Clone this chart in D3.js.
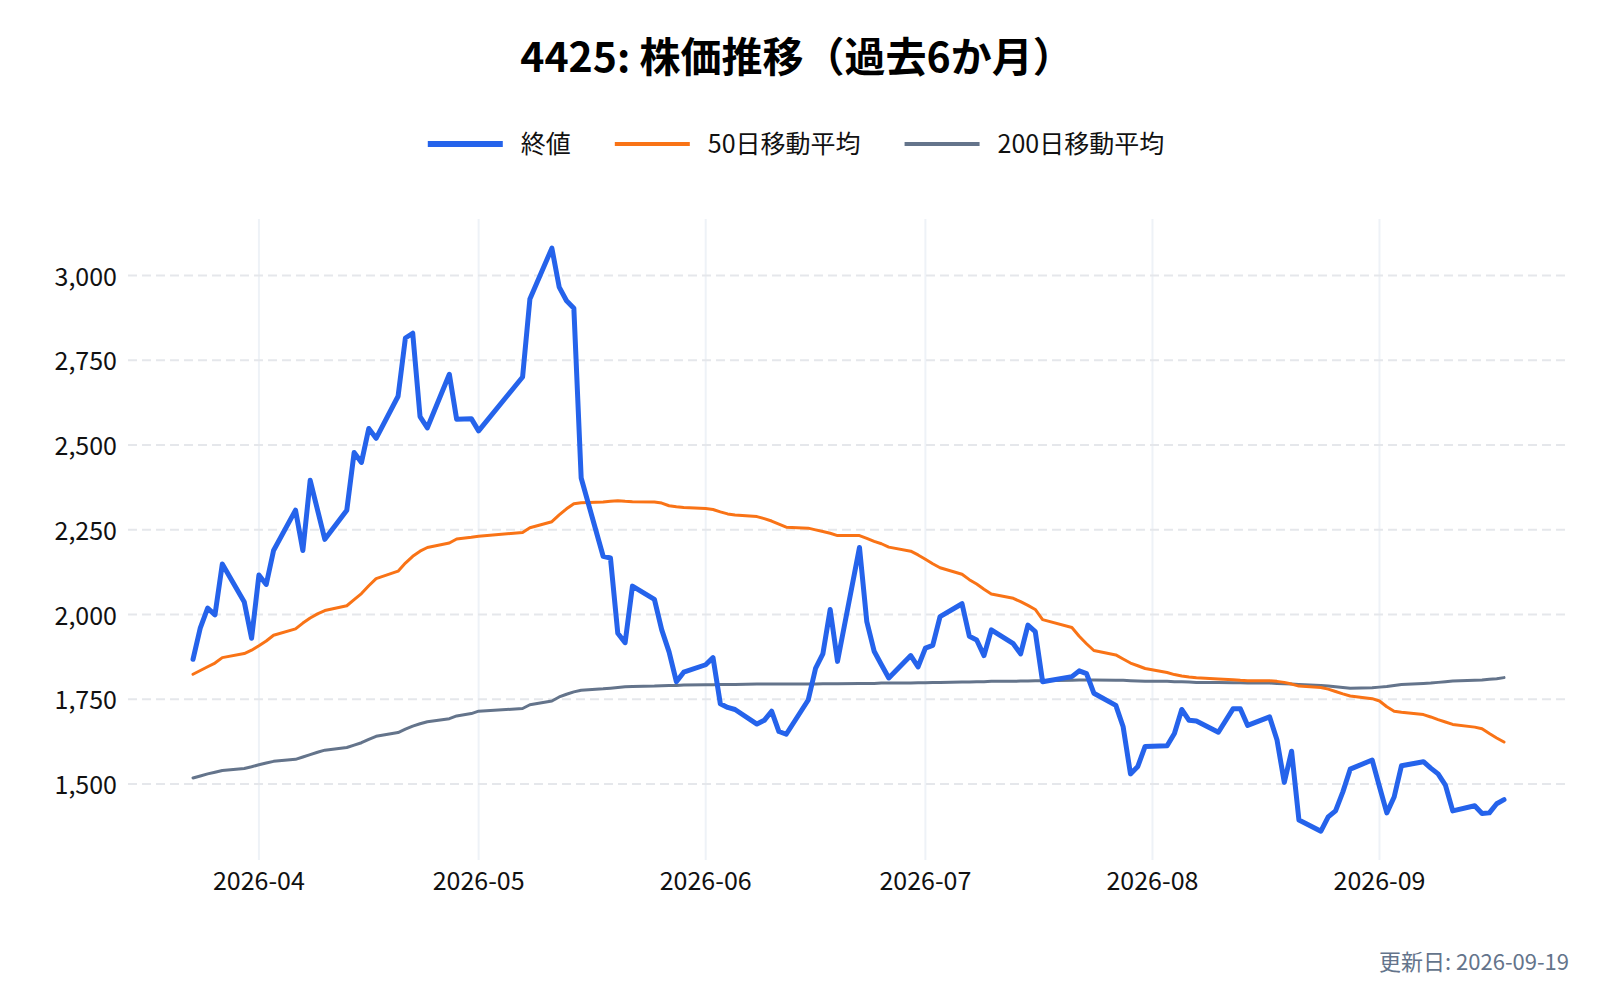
<!DOCTYPE html>
<html>
<head>
<meta charset="utf-8">
<script src="https://cdn.jsdelivr.net/npm/d3@7.9.0/dist/d3.min.js"></script>
<style>
  body { margin: 0; background: #fff; }
  svg text { font-family: "Noto Sans CJK JP", "Noto Sans", sans-serif; }
</style>
</head>
<body>
<svg id="chart" width="1600" height="1000"></svg>
<script>
// trading days (TSE holidays skipped)
const dates = [
  '2026-03-23','2026-03-24','2026-03-25','2026-03-26','2026-03-27','2026-03-30','2026-03-31',
  '2026-04-01','2026-04-02','2026-04-03','2026-04-06','2026-04-07','2026-04-08','2026-04-09','2026-04-10',
  '2026-04-13','2026-04-14','2026-04-15','2026-04-16','2026-04-17','2026-04-20','2026-04-21','2026-04-22',
  '2026-04-23','2026-04-24','2026-04-27','2026-04-28','2026-04-30',
  '2026-05-01','2026-05-07','2026-05-08','2026-05-11','2026-05-12','2026-05-13','2026-05-14','2026-05-15',
  '2026-05-18','2026-05-19','2026-05-20','2026-05-21','2026-05-22','2026-05-25','2026-05-26','2026-05-27',
  '2026-05-28','2026-05-29',
  '2026-06-01','2026-06-02','2026-06-03','2026-06-04','2026-06-05','2026-06-08','2026-06-09','2026-06-10',
  '2026-06-11','2026-06-12','2026-06-15','2026-06-16','2026-06-17','2026-06-18','2026-06-19','2026-06-22',
  '2026-06-23','2026-06-24','2026-06-25','2026-06-26','2026-06-29','2026-06-30',
  '2026-07-01','2026-07-02','2026-07-03','2026-07-06','2026-07-07','2026-07-08','2026-07-09','2026-07-10',
  '2026-07-13','2026-07-14','2026-07-15','2026-07-16','2026-07-17','2026-07-21','2026-07-22','2026-07-23',
  '2026-07-24','2026-07-27','2026-07-28','2026-07-29','2026-07-30','2026-07-31',
  '2026-08-03','2026-08-04','2026-08-05','2026-08-06','2026-08-07','2026-08-10','2026-08-12','2026-08-13',
  '2026-08-14','2026-08-17','2026-08-18','2026-08-19','2026-08-20','2026-08-21','2026-08-24','2026-08-25',
  '2026-08-26','2026-08-27','2026-08-28','2026-08-31',
  '2026-09-01','2026-09-02','2026-09-03','2026-09-04','2026-09-07','2026-09-08','2026-09-09','2026-09-10',
  '2026-09-11','2026-09-14','2026-09-15','2026-09-16','2026-09-17','2026-09-18'
];

const closes = [
  1868, 1961, 2019, 1999, 2149, 2037, 1930,
  2117, 2089, 2189, 2308, 2189, 2396, 2309, 2222, 2308, 2478, 2449, 2549, 2520, 2644, 2816, 2830, 2584, 2551, 2709, 2576, 2578,
  2542, 2701, 2931, 3081, 2966, 2926, 2904, 2403, 2172, 2167, 1945, 1917, 2084, 2045, 1955, 1890, 1802, 1830,
  1852, 1873, 1737, 1726, 1720, 1677, 1688, 1715, 1655, 1647, 1748, 1841, 1884, 2015, 1862, 2198, 1979, 1892, 1852, 1813, 1879, 1846,
  1901, 1909, 1994, 2032, 1936, 1925, 1879, 1955, 1914, 1884, 1969, 1950, 1802, 1817, 1834, 1826, 1768, 1732, 1669, 1530, 1552, 1611,
  1613, 1649, 1720, 1688, 1686, 1653, 1722, 1722, 1673, 1698, 1631, 1505, 1597, 1394, 1361, 1403, 1421, 1477, 1544, 1571,
  1492, 1415, 1462, 1554, 1566, 1547, 1530, 1497, 1421, 1436, 1413, 1415, 1442, 1454
];

const ma50 = [
  1824, 1835, 1846, 1857, 1873, 1885, 1895,
  1908, 1922, 1939, 1958, 1975, 1990, 2002, 2012, 2026, 2044, 2062, 2085, 2106, 2128, 2152, 2172, 2187, 2198, 2211, 2223, 2228,
  2231, 2242, 2256, 2274, 2294, 2312, 2327, 2330, 2332, 2334, 2336, 2334, 2333, 2332, 2329, 2321, 2318, 2316,
  2313, 2310, 2303, 2297, 2294, 2289, 2283, 2276, 2267, 2258, 2255, 2250, 2245, 2240, 2233, 2233, 2225, 2216, 2209, 2199, 2187, 2176,
  2163, 2150, 2138, 2119, 2103, 2090, 2075, 2061, 2048, 2038, 2027, 2015, 1985, 1962, 1936, 1914, 1894, 1881, 1869, 1857, 1849, 1841,
  1829, 1823, 1819, 1816, 1814, 1810, 1808, 1806, 1805, 1805, 1803, 1800, 1795, 1789, 1785, 1780, 1773, 1766, 1760, 1752,
  1745, 1728, 1715, 1712, 1705, 1698, 1690, 1683, 1676, 1668, 1663, 1649, 1636, 1624
];

const ma200 = [
  1518, 1524, 1530, 1535, 1540, 1546, 1551,
  1557, 1562, 1567, 1573, 1580, 1587, 1594, 1600, 1608, 1615, 1622, 1632, 1641, 1652, 1662, 1671, 1678, 1684, 1693, 1701, 1708,
  1715, 1723, 1734, 1745, 1757, 1765, 1772, 1777, 1781, 1783, 1785, 1787, 1788, 1789, 1790, 1791, 1791, 1792,
  1793, 1793, 1794, 1794, 1794, 1795, 1795, 1795, 1795, 1795, 1795, 1795, 1796, 1796, 1796, 1797, 1797, 1797, 1798, 1798, 1798, 1799,
  1799, 1800, 1800, 1801, 1801, 1802, 1802, 1803, 1803, 1804, 1804, 1805, 1805, 1806, 1807, 1807, 1807, 1806, 1806, 1805, 1804, 1803,
  1803, 1802, 1802, 1801, 1800, 1800, 1799, 1799, 1798, 1798, 1797, 1796, 1795, 1794, 1791, 1789, 1787, 1785, 1783, 1784,
  1786, 1788, 1791, 1794, 1797, 1798, 1800, 1802, 1804, 1806, 1807, 1809, 1811, 1814
];

const yTicks = [1500, 1750, 2000, 2250, 2500, 2750, 3000];
const xTicks = ['2026-04-01', '2026-05-01', '2026-06-01', '2026-07-01', '2026-08-01', '2026-09-01'];

const seriesNames = ['終値', '50日移動平均', '200日移動平均'];
const seriesColors = ['#2563eb', '#f97316', '#64748b'];
const seriesWidths = [5, 3, 3];

const titleText = '4425: 株価推移（過去6か月）';
const footerText = '更新日: 2026-09-19';

const parse = d3.timeParse('%Y-%m-%d');
const days = dates.map(parse);

const svg = d3.select('#chart');

// plot area
const plot = { left: 128, right: 1568, top: 219, bottom: 860 };

const x = d3.scaleTime()
  .domain(d3.extent(days))
  .range([193, 1504]);

const y = d3.scaleLinear()
  .domain([1276, 3167])
  .range([plot.bottom, plot.top]);

// vertical grid (month starts)
svg.append('g')
  .selectAll('line')
  .data(xTicks.map(parse))
  .join('line')
  .attr('x1', d => x(d)).attr('x2', d => x(d))
  .attr('y1', plot.top).attr('y2', plot.bottom)
  .attr('stroke', '#eef2f7')
  .attr('stroke-width', 2);

// horizontal dashed grid
svg.append('g')
  .selectAll('line')
  .data(yTicks)
  .join('line')
  .attr('x1', plot.left).attr('x2', plot.right)
  .attr('y1', d => y(d)).attr('y2', d => y(d))
  .attr('stroke', '#e5e7eb')
  .attr('stroke-width', 2)
  .attr('stroke-dasharray', '9,5');

// axis labels
svg.append('g')
  .selectAll('text')
  .data(yTicks)
  .join('text')
  .attr('x', 117)
  .attr('y', d => y(d) + 10)
  .attr('text-anchor', 'end')
  .attr('font-size', 25)
  .attr('fill', '#111')
  .text(d3.format(','));

svg.append('g')
  .selectAll('text')
  .data(xTicks.map(parse))
  .join('text')
  .attr('x', d => x(d))
  .attr('y', 890)
  .attr('text-anchor', 'middle')
  .attr('font-size', 25)
  .attr('fill', '#111')
  .text(d3.timeFormat('%Y-%m'));

// lines: 200MA, 50MA underneath, close on top
const series = [closes, ma50, ma200];
const line = d3.line()
  .x((d, i) => x(days[i]))
  .y(d => y(d));

[2, 1, 0].forEach(k => {
  svg.append('path')
    .datum(series[k])
    .attr('d', line)
    .attr('fill', 'none')
    .attr('stroke', seriesColors[k])
    .attr('stroke-width', seriesWidths[k])
    .attr('stroke-linejoin', 'round')
    .attr('stroke-linecap', 'round');
});

// title
svg.append('text')
  .attr('x', 797)
  .attr('y', 72)
  .attr('text-anchor', 'middle')
  .attr('font-size', 41)
  .attr('font-weight', 700)
  .attr('fill', '#000')
  .text(titleText);

// legend, centred on the page
const legend = svg.append('g');
let lx = 0;
seriesNames.forEach((name, i) => {
  const item = legend.append('g').attr('transform', `translate(${lx},0)`);
  item.append('line')
    .attr('x1', 0).attr('x2', 75)
    .attr('y1', 144).attr('y2', 144)
    .attr('stroke', seriesColors[i])
    .attr('stroke-width', i === 0 ? 6 : 4);
  const t = item.append('text')
    .attr('x', 93)
    .attr('y', 153)
    .attr('font-size', 25)
    .attr('fill', '#111')
    .text(name);
  lx += 93 + t.node().getComputedTextLength() + 44;
});
const legendWidth = lx - 44;
legend.attr('transform', `translate(${796 - legendWidth / 2},0)`);

// footer
svg.append('text')
  .attr('x', 1569)
  .attr('y', 970)
  .attr('text-anchor', 'end')
  .attr('font-size', 22)
  .attr('fill', '#64748b')
  .text(footerText);
</script>
</body>
</html>
